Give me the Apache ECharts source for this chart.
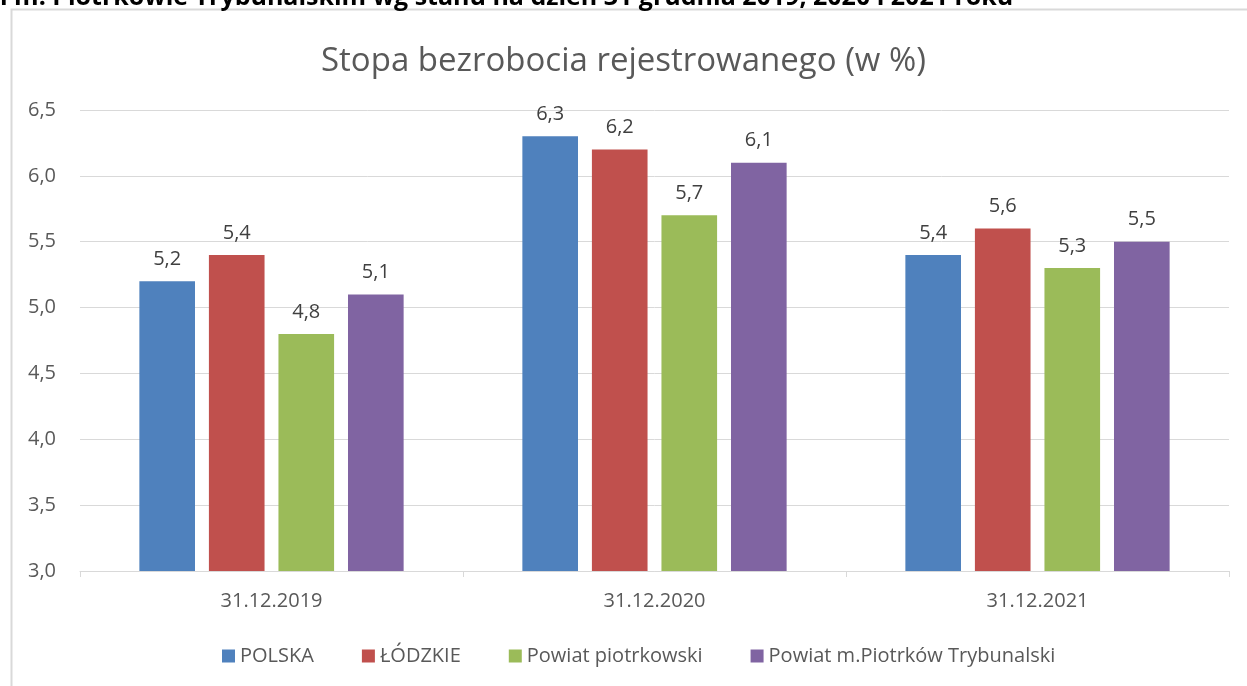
<!DOCTYPE html>
<html><head><meta charset="utf-8">
<script src="https://cdn.jsdelivr.net/npm/echarts@6/dist/echarts.min.js"></script>
<style>html,body{margin:0;padding:0;background:#fff}#c{width:1247px;height:686px}</style>
</head><body><div id="c"></div>
<script>
const categories = ['31.12.2019', '31.12.2020', '31.12.2021'];
const seriesNames = ['POLSKA', 'ŁÓDZKIE', 'Powiat piotrkowski', 'Powiat m.Piotrków Trybunalski'];
const polska = [5.2, 6.3, 5.4];
const lodzkie = [5.4, 6.2, 5.6];
const powiatPiotrkowski = [4.8, 5.7, 5.3];
const powiatMiasto = [5.1, 6.1, 5.5];
const colors = ['#4F81BD', '#C0504D', '#9BBB59', '#8064A2'];
const font = '"Open Sans", "Noto Sans", sans-serif';
const fmt = v => v.toFixed(1).replace('.', ',');

const chart = echarts.init(document.getElementById('c'));
const values = [polska, lodzkie, powiatPiotrkowski, powiatMiasto];
chart.setOption({
  animation: false,
  color: colors,
  title: {
    text: 'Stopa bezrobocia rejestrowanego (w %)',
    left: 'center', top: 40,
    textStyle: {fontFamily: font, fontSize: 33, fontWeight: 'normal', color: '#595959'}
  },
  graphic: [
    {type: 'rect', shape: {x: 11.5, y: 9.5, width: 1250, height: 700}, style: {fill: 'none', stroke: '#d9d9d9', lineWidth: 2}, silent: true},
    {type: 'text', left: 0, top: -15, style: {text: 'i m. Piotrkowie Trybunalskim wg stanu na dzień 31 grudnia 2019, 2020 i 2021 roku', font: 'bold 25px "Open Sans", sans-serif', fill: '#000'}}
  ],
  legend: {
    bottom: 15, left: 217,
    itemWidth: 13, itemHeight: 13, itemGap: 48, itemStyle: {borderWidth: 0},
    icon: 'rect',
    textStyle: {fontFamily: font, fontSize: 20, color: '#595959'},
    data: seriesNames
  },
  grid: {left: 80, right: 18, top: 110, bottom: 115},
  xAxis: {
    type: 'category', data: categories,
    axisLine: {lineStyle: {color: '#d9d9d9', width: 1}},
    axisTick: {show: true, length: 6, lineStyle: {color: '#d9d9d9'}},
    axisLabel: {fontFamily: font, fontSize: 20, color: '#595959', margin: 20}
  },
  yAxis: {
    type: 'value', min: 3, max: 6.5, interval: 0.5,
    axisLine: {show: false}, axisTick: {show: false},
    splitLine: {lineStyle: {color: '#d9d9d9'}},
    axisLabel: {fontFamily: font, fontSize: 20, color: '#595959', margin: 24, formatter: fmt}
  },
  series: seriesNames.map((n, i) => ({
    name: n, type: 'bar', data: values[i],
    barGap: '25%', barCategoryGap: '31%',
    label: {show: true, position: 'top', distance: 12, fontFamily: font, fontSize: 20, color: '#404040', formatter: p => fmt(p.value)}
  }))
});
</script></body></html>
